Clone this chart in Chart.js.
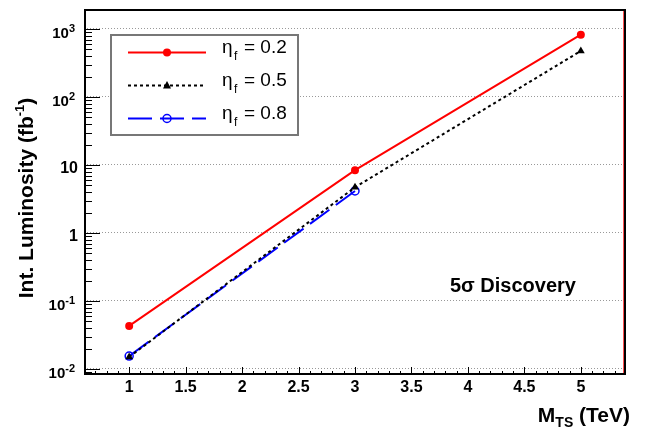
<!DOCTYPE html>
<html><head><meta charset="utf-8">
<script src="https://cdn.jsdelivr.net/npm/chart.js@4.4.1/dist/chart.umd.min.js"></script>
<style>html,body{margin:0;padding:0;background:#fff;} #wrap{width:650px;height:430px;position:relative;}</style>
</head><body><div id="wrap"><canvas id="c"></canvas></div>
<script>
// ---- data ----
const massTeV = [1, 3, 5];
const lumiEta02 = [0.043, 8.4, 825];
const lumiEta05 = [0.015, 4.7, 475];
const lumiEta08 = [0.0155, 4.15];
const seriesEta = ['0.2', '0.5', '0.8'];
const xTickValues = [1, 1.5, 2, 2.5, 3, 3.5, 4, 4.5, 5];
const xTickLabels = ['1', '1.5', '2', '2.5', '3', '3.5', '4', '4.5', '5'];
const yTickValues = [0.01, 0.1, 1, 10, 100, 1000];
const yTickLabels = [['10', '-2'], ['10', '-1'], ['1', ''], ['10', ''], ['10', '2'], ['10', '3']];

const FONT = "'Liberation Sans', Arial, Helvetica, sans-serif";
const colors = ['#ff0000', '#000000', '#0000ff'];
const dashes = [[], [3, 3], [24, 8]];

function pts(vals) { return vals.map((y, i) => ({ x: massTeV[i], y })); }

function drawMarker(ctx, k, x, y) {
  ctx.save();
  ctx.setLineDash([]);
  if (k === 0) {
    ctx.fillStyle = colors[0];
    ctx.beginPath(); ctx.arc(x, y, 4, 0, Math.PI * 2); ctx.fill();
  } else if (k === 1) {
    ctx.fillStyle = colors[1];
    ctx.beginPath(); ctx.moveTo(x, y - 4.5); ctx.lineTo(x + 4, y + 3); ctx.lineTo(x - 4, y + 3); ctx.closePath(); ctx.fill();
  } else {
    ctx.strokeStyle = colors[2]; ctx.lineWidth = 1.5;
    ctx.beginPath(); ctx.arc(x, y, 4, 0, Math.PI * 2); ctx.stroke();
  }
  ctx.restore();
}

const overlay = {
  id: 'overlay',
  afterDraw(chart) {
    const ctx = chart.ctx, a = chart.chartArea, xs = chart.scales.x, ys = chart.scales.y;
    ctx.save();
    // inner ticks
    ctx.strokeStyle = '#000'; ctx.lineWidth = 1; ctx.setLineDash([]);
    ctx.beginPath();
    for (let e = -3; e <= 3; e++) {
      for (let m = 1; m <= 9; m++) {
        const v = m * Math.pow(10, e);
        if (v < ys.min || v > ys.max) continue;
        const py = Math.round(ys.getPixelForValue(v)) + 0.5;
        const len = m === 1 ? 16 : 8;
        ctx.moveTo(a.left, py); ctx.lineTo(a.left + len, py);
      }
    }
    for (let i = 7; i <= 53; i++) {
      const v = i / 10;
      const px = Math.round(xs.getPixelForValue(v)) + 0.5;
      const len = i % 5 === 0 ? 8 : 4;
      ctx.moveTo(px, a.bottom); ctx.lineTo(px, a.bottom - len);
    }
    ctx.stroke();
    // frame
    ctx.lineWidth = 2; ctx.strokeStyle = '#000';
    ctx.strokeRect(a.left + 1, a.top + 1, a.right - a.left - 2, a.bottom - a.top - 2);
    ctx.fillStyle = '#ff5050';
    ctx.fillRect(a.right - 3, a.top + 2, 1, a.bottom - a.top - 4);

    // y tick labels
    ctx.fillStyle = '#000';
    yTickLabels.forEach((lab, i) => {
      const py = ys.getPixelForValue(yTickValues[i]);
      if (lab[1] === '') {
        ctx.font = 'bold 16px ' + FONT; ctx.textAlign = 'right'; ctx.textBaseline = 'alphabetic';
        ctx.fillText(lab[0], 78, py + 8);
      } else {
        ctx.font = 'bold 15px ' + FONT;
        const wb = ctx.measureText(lab[0]).width;
        ctx.font = 'bold 11px ' + FONT;
        const we = ctx.measureText(lab[1]).width;
        const x0 = 75 - wb - we;
        ctx.textAlign = 'left'; ctx.textBaseline = 'alphabetic';
        ctx.font = 'bold 15px ' + FONT;
        ctx.fillText(lab[0], x0, py + 9);
        ctx.font = 'bold 11px ' + FONT;
        ctx.fillText(lab[1], x0 + wb, py + 3);
      }
    });

    // y axis title (rotated)
    ctx.save();
    ctx.translate(33, 198);
    ctx.rotate(-Math.PI / 2);
    ctx.font = 'bold 21px ' + FONT;
    const t1 = 'Int. Luminosity (fb', t3 = ')';
    const w1 = ctx.measureText(t1).width, w3 = ctx.measureText(t3).width;
    ctx.font = 'bold 13px ' + FONT;
    const t2 = '-1'; const w2 = ctx.measureText(t2).width;
    let sx = -(w1 + w2 + w3) / 2;
    ctx.textAlign = 'left'; ctx.textBaseline = 'alphabetic';
    ctx.font = 'bold 21px ' + FONT; ctx.fillText(t1, sx, 0);
    ctx.font = 'bold 13px ' + FONT; ctx.fillText(t2, sx + w1, -9);
    ctx.font = 'bold 21px ' + FONT; ctx.fillText(t3, sx + w1 + w2, 0);
    ctx.restore();

    // x axis title
    ctx.font = 'bold 21px ' + FONT;
    const m1 = 'M', m3 = ' (TeV)';
    const mw1 = ctx.measureText(m1).width, mw3 = ctx.measureText(m3).width;
    ctx.font = 'bold 14px ' + FONT;
    const m2 = 'TS'; const mw2 = ctx.measureText(m2).width;
    let mx = 630 - (mw1 + mw2 + mw3);
    ctx.textAlign = 'left';
    ctx.font = 'bold 21px ' + FONT; ctx.fillText(m1, mx, 422);
    ctx.font = 'bold 14px ' + FONT; ctx.fillText(m2, mx + mw1, 427);
    ctx.font = 'bold 21px ' + FONT; ctx.fillText(m3, mx + mw1 + mw2, 422);

    // annotation
    ctx.font = 'bold 20px ' + FONT;
    ctx.fillText('5\u03c3 Discovery', 450, 292);

    // legend
    ctx.fillStyle = '#fff';
    ctx.fillRect(111, 35, 187, 100);
    ctx.strokeStyle = '#777'; ctx.lineWidth = 2;
    ctx.strokeRect(111, 35, 187, 100);
    const rows = [52, 85, 118];
    rows.forEach((ry, k) => {
      ctx.save();
      ctx.strokeStyle = colors[k]; ctx.lineWidth = 2; ctx.setLineDash(dashes[k]);
      ctx.beginPath(); ctx.moveTo(128, ry + 0.5); ctx.lineTo(206, ry + 0.5); ctx.stroke();
      ctx.restore();
      drawMarker(ctx, k, 167, ry + 0.5);
      ctx.fillStyle = '#000'; ctx.textAlign = 'left'; ctx.textBaseline = 'alphabetic';
      ctx.font = '19px ' + FONT; ctx.fillText('\u03b7', 222, ry + 1);
      ctx.font = '12px ' + FONT; ctx.fillText('f', 234, ry + 8);
      ctx.font = '19px ' + FONT; ctx.fillText('= ' + seriesEta[k], 244, ry + 1);
    });
    ctx.restore();
  }
};

new Chart(document.getElementById('c'), {
  type: 'line',
  data: {
    datasets: [
      { label: 'eta_f = ' + seriesEta[0], data: pts(lumiEta02), borderColor: colors[0], backgroundColor: colors[0],
        borderWidth: 2, pointStyle: 'circle', pointRadius: 4, pointBorderWidth: 0, pointBackgroundColor: colors[0] },
      { label: 'eta_f = ' + seriesEta[1], data: pts(lumiEta05), borderColor: colors[1], backgroundColor: colors[1],
        borderWidth: 2, borderDash: dashes[1], pointStyle: 'triangle', pointRadius: 4.5, pointBorderWidth: 0, pointBackgroundColor: colors[1] },
      { label: 'eta_f = ' + seriesEta[2], data: pts(lumiEta08), borderColor: colors[2], backgroundColor: 'rgba(0,0,0,0)',
        borderWidth: 2, borderDash: dashes[2], pointStyle: 'circle', pointRadius: 4, pointBorderWidth: 1.5, pointBackgroundColor: 'rgba(0,0,0,0)' }
    ]
  },
  options: {
    responsive: true, maintainAspectRatio: false, animation: false,
    layout: { padding: { top: 9, right: 24, left: 0, bottom: 0 } },
    plugins: { legend: { display: false }, tooltip: { enabled: false } },
    elements: { line: { tension: 0 } },
    scales: {
      x: {
        type: 'linear', min: 0.6, max: 5.4,
        afterBuildTicks: s => { s.ticks = xTickValues.map(v => ({ value: v })); },
        afterFit: s => { s.height = 55; },
        grid: { display: false, drawTicks: false },
        border: { display: false },
        ticks: { autoSkip: false, maxRotation: 0, padding: 3, color: '#000',
          font: { family: FONT, size: 16, weight: 'bold' },
          callback: (v) => { const i = xTickValues.indexOf(v); return i >= 0 ? xTickLabels[i] : ''; } }
      },
      y: {
        type: 'logarithmic', min: 0.00816, max: 1968,
        afterBuildTicks: s => { s.ticks = yTickValues.map(v => ({ value: v })); },
        afterFit: s => { s.width = 84; },
        grid: { color: '#999', lineWidth: 1, drawTicks: false },
        border: { display: false, dash: [1, 2] },
        ticks: { display: false }
      }
    }
  },
  plugins: [overlay]
});
</script>
</body></html>
